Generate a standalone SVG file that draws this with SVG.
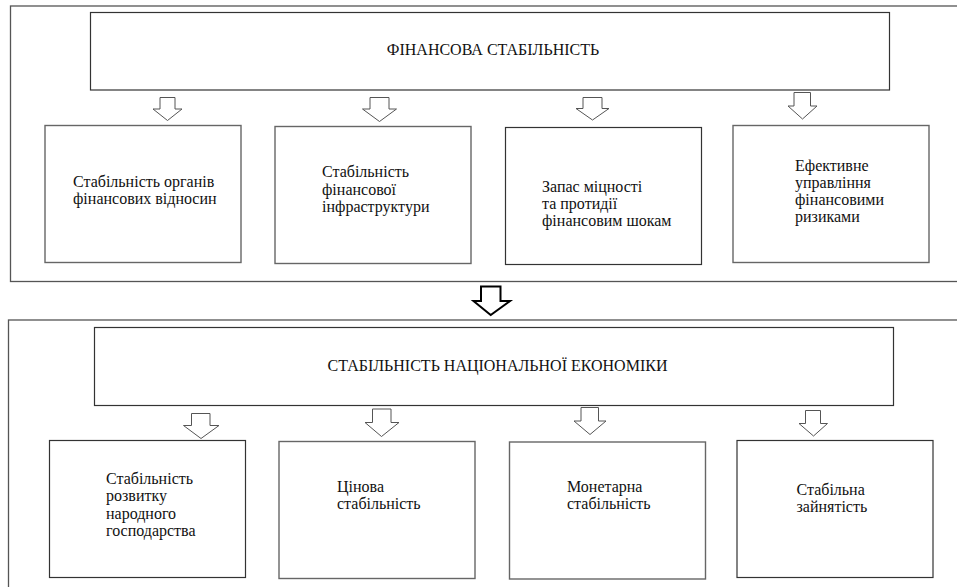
<svg xmlns="http://www.w3.org/2000/svg" width="957" height="587" viewBox="0 0 957 587">
<defs>
<style>
.frame{fill:none;stroke:#555;stroke-width:1.3}
.box{fill:#fff;stroke:#333;stroke-width:1.2}
.boxg{fill:#fff;stroke:#666;stroke-width:1.4}
.arr{fill:#fff;stroke:#555;stroke-width:1}
.big{fill:#fff;stroke:#000;stroke-width:2;stroke-linejoin:miter}
.t text{font-size:16px;fill:#111}
.c{text-anchor:middle}
</style>
</defs>
<rect width="957" height="587" fill="#fff"/>
<rect class="frame" x="10.5" y="6" width="960" height="275.5"/>
<rect class="frame" x="8.5" y="320" width="960" height="280"/>
<g class="t" font-family="'Liberation Serif', 'Times New Roman', serif">
<g id="n-fin">
<rect class="box" x="90.5" y="12.5" width="799" height="77.5"/>
<text class="c" x="493" y="55">ФІНАНСОВА СТАБІЛЬНІСТЬ</text>
</g>
<g id="n-f1">
<rect class="boxg" x="45" y="125.5" width="196" height="137"/>
<text x="73" y="187">Стабільність органів</text>
<text x="73" y="204">фінансових відносин</text>
</g>
<g id="n-f2">
<rect class="boxg" x="275" y="126.5" width="196" height="137"/>
<text x="322" y="177">Стабільність</text>
<text x="322" y="194.5">фінансової</text>
<text x="322" y="212">інфраструктури</text>
</g>
<g id="n-f3">
<rect class="box" x="505.5" y="127.5" width="196" height="137"/>
<text x="542" y="191.5">Запас міцності</text>
<text x="542" y="208.5">та протидії</text>
<text x="542" y="225.5">фінансовим шокам</text>
</g>
<g id="n-f4">
<rect class="boxg" x="733" y="125.5" width="196" height="137"/>
<text x="795" y="170.5">Ефективне</text>
<text x="795" y="187.5">управління</text>
<text x="795" y="204.5">фінансовими</text>
<text x="795" y="221.5">ризиками</text>
</g>
<g id="n-eco">
<rect class="box" x="94.5" y="327.5" width="799" height="78"/>
<text class="c" x="497.5" y="371">СТАБІЛЬНІСТЬ НАЦІОНАЛЬНОЇ ЕКОНОМІКИ</text>
</g>
<g id="n-e1">
<rect class="box" x="49.5" y="440.5" width="196" height="137"/>
<text x="106" y="483.5">Стабільність</text>
<text x="106" y="501">розвитку</text>
<text x="106" y="518.5">народного</text>
<text x="106" y="536">господарства</text>
</g>
<g id="n-e2">
<rect class="boxg" x="279" y="441.5" width="196" height="137"/>
<text x="337" y="492">Цінова</text>
<text x="337" y="509">стабільність</text>
</g>
<g id="n-e3">
<rect class="boxg" x="509.5" y="442" width="196" height="137"/>
<text x="567" y="492">Монетарна</text>
<text x="567" y="509">стабільність</text>
</g>
<g id="n-e4">
<rect class="box" x="737" y="440.5" width="196" height="137"/>
<text x="796.5" y="495">Стабільна</text>
<text x="796.5" y="512">зайнятість</text>
</g>
</g>
<g id="connectors">
<polygon class="arr" points="160,97.5 175,97.5 175,109 182,109 167.5,120.5 153,109 160,109"/>
<polygon class="arr" points="370,97.5 389,97.5 389,109 396.5,109 379.5,121.5 362.5,109 370,109"/>
<polygon class="arr" points="583,97.5 602,97.5 602,108.5 609,108.5 592.5,120 576,108.5 583,108.5"/>
<polygon class="arr" points="794,92.5 810.5,92.5 810.5,106 817,106 802.5,119 788,106 794,106"/>
<polygon class="big" points="481,286.5 500.5,286.5 500.5,301 510,301 490.7,315 473.5,301 481,301"/>
<polygon class="arr" points="191.5,413.5 210,413.5 210,425.5 219,425.5 201,438.5 183.5,425.5 191.5,425.5"/>
<polygon class="arr" points="372.5,409 391,409 391,422.5 399,422.5 381.5,436.5 365,422.5 372.5,422.5"/>
<polygon class="arr" points="581,407.5 598.5,407.5 598.5,421 606,421 590,434.5 574,421 581,421"/>
<polygon class="arr" points="805.5,410.5 820.5,410.5 820.5,423.5 827.5,423.5 813.5,436 799,423.5 805.5,423.5"/>
</g>
</svg>
